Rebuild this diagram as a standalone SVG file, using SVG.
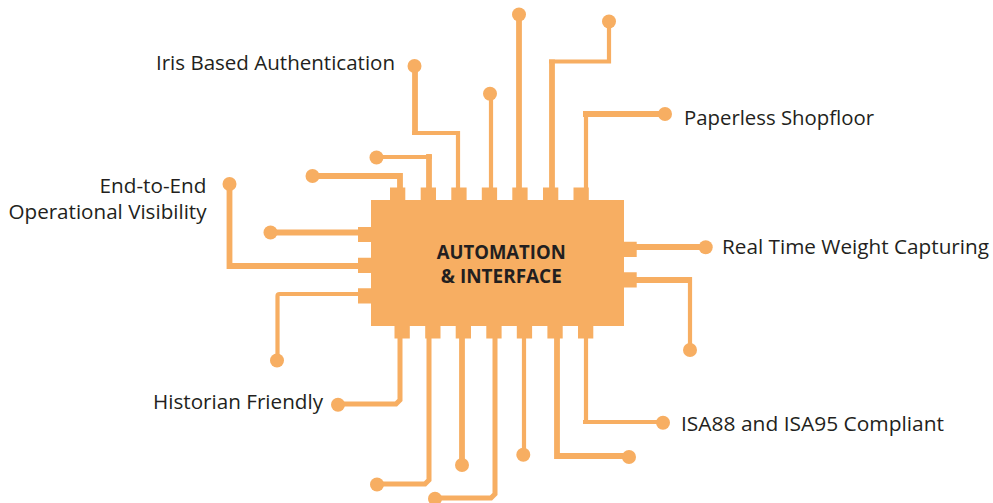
<svg xmlns="http://www.w3.org/2000/svg" width="993" height="503" viewBox="0 0 993 503">
<style>
.o{fill:#f7ae62}
.l{fill:none;stroke:#f7ae62;stroke-linejoin:miter}
.w4{stroke-width:4.2}.w5{stroke-width:5}.w6{stroke-width:5.8}
.t{font-family:"Open Sans","Noto Sans",sans-serif;font-size:20px;fill:#231f20}
.b{font-family:"Open Sans","Noto Sans",sans-serif;font-size:20px;font-weight:700;fill:#231f20}
</style>
<rect width="993" height="503" fill="#fff"/>
<g id="connectors">
<path class="l w6" d="M415 66V133"/><path class="l w4" d="M412 133H458V188"/>
<path class="l w4" d="M377 157H432"/><path class="l w6" d="M429 154V188"/>
<path class="l w6" d="M313 176H400V188"/>
<path class="l w4" d="M491 94V188"/>
<path class="l w6" d="M519 15V188"/>
<path class="l w4" d="M609 22V61.500H549"/><path class="l w6" d="M552 59.500V188"/>
<path class="l w6" d="M665 114H583"/><path class="l w4" d="M586 111V188"/>
<path class="l w6" d="M271 232.500H358"/>
<path class="l w6" d="M229.500 184V266H358"/>
<path class="l w4" d="M277.500 360V296Q277.500 294 279.500 294H358"/>
<path class="l w6" d="M636 247H706"/>
<path class="l w6" d="M636 280H690"/><path class="l w4" d="M690 277V350"/>
<path class="l w4" d="M586 338V422"/><path class="l w4" d="M583 422H663"/>
<path class="l w6" d="M557 338V456H629"/>
<path class="l w4" d="M524 338V455"/>
<path class="l w5" d="M495 338V494L491 498H435"/>
<path class="l w6" d="M462 338V465"/>
<path class="l w5" d="M429 338V480L425 484H377"/>
<path class="l w5" d="M400 338V400L396 404H338"/>
</g>
<g id="chip">
<rect class="o" x="371" y="200" width="253" height="126"/>
<path class="o" d="M390 187.500h15.300V200H390zM420.700 187.500h15.300V200h-15.300zM451.300 187.500h15.300V200h-15.300zM481.800 187.500h15.300V200h-15.300zM512.300 187.500h15.300V200h-15.300zM543 187.500h15.300V200H543zM573.500 187.500h15.300V200h-15.300z"/>
<path class="o" d="M358 227h13v15h-13zM358 257.700h13v15.300h-13zM358 288.300h13v15.300h-13z"/>
<path class="o" d="M624 241.700h12.700V257H624zM624 272.300h12.700v15.300H624z"/>
<path class="o" d="M394.500 326h15.300v12.500h-15.300zM425.200 326h15.300v12.500h-15.300zM455.700 326h15.300v12.500h-15.300zM486.300 326h15.300v12.500h-15.300zM516.800 326h15.300v12.500h-15.300zM547.400 326h15.300v12.500h-15.300zM578 326h15.300v12.500H578z"/>
<text class="b" x="501.200" y="258.500" text-anchor="middle" textLength="129" lengthAdjust="spacingAndGlyphs">AUTOMATION</text>
<text class="b" x="501.300" y="282.500" text-anchor="middle" textLength="121" lengthAdjust="spacingAndGlyphs">&amp; INTERFACE</text>
</g>
<g id="node-iris"><circle class="o" cx="414.500" cy="66" r="7"/><text class="t" x="156" y="69.500" textLength="239" lengthAdjust="spacingAndGlyphs">Iris Based Authentication</text></g>
<g id="node-c2"><circle class="o" cx="376.500" cy="157.500" r="7"/></g>
<g id="node-c3"><circle class="o" cx="312.500" cy="176" r="7"/></g>
<g id="node-c4"><circle class="o" cx="490" cy="93.700" r="7"/></g>
<g id="node-c5"><circle class="o" cx="519" cy="14.500" r="7"/></g>
<g id="node-c6"><circle class="o" cx="609" cy="21.500" r="7"/></g>
<g id="node-paperless"><circle class="o" cx="665" cy="114" r="7"/><text class="t" x="684" y="125" textLength="190" lengthAdjust="spacingAndGlyphs">Paperless Shopfloor</text></g>
<g id="node-visibility"><circle class="o" cx="229.500" cy="184" r="7"/><text class="t" x="206.500" y="192.500" text-anchor="end" textLength="107" lengthAdjust="spacingAndGlyphs">End-to-End</text><text class="t" x="206.500" y="218.500" text-anchor="end" textLength="198" lengthAdjust="spacingAndGlyphs">Operational Visibility</text></g>
<g id="node-c7"><circle class="o" cx="270.500" cy="232.500" r="7"/></g>
<g id="node-c8"><circle class="o" cx="277" cy="360.500" r="7"/></g>
<g id="node-weight"><circle class="o" cx="705.700" cy="247.300" r="7"/><text class="t" x="722" y="254" textLength="267" lengthAdjust="spacingAndGlyphs">Real Time Weight Capturing</text></g>
<g id="node-c9"><circle class="o" cx="690" cy="350" r="7"/></g>
<g id="node-isa"><circle class="o" cx="663" cy="422.700" r="7"/><text class="t" x="681" y="431" textLength="263" lengthAdjust="spacingAndGlyphs">ISA88 and ISA95 Compliant</text></g>
<g id="node-c10"><circle class="o" cx="629" cy="457" r="7"/></g>
<g id="node-c11"><circle class="o" cx="523.300" cy="454.700" r="7"/></g>
<g id="node-c12"><circle class="o" cx="435" cy="498.700" r="7"/></g>
<g id="node-c13"><circle class="o" cx="462" cy="465" r="7"/></g>
<g id="node-c14"><circle class="o" cx="377" cy="484.500" r="7"/></g>
<g id="node-historian"><circle class="o" cx="338" cy="404.700" r="7"/><text class="t" x="153" y="409" textLength="170" lengthAdjust="spacingAndGlyphs">Historian Friendly</text></g>
</svg>
